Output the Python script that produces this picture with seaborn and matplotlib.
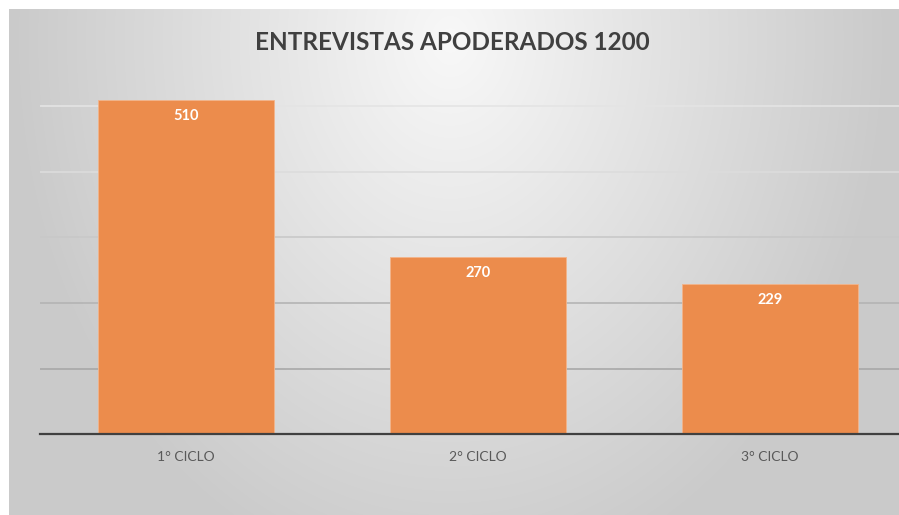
import numpy as np
import pandas as pd
import matplotlib
matplotlib.use("Agg")
import matplotlib.pyplot as plt
import seaborn as sns

categorias = ["1° CICLO", "2° CICLO", "3° CICLO"]
entrevistas = [510, 270, 229]
titulo = "ENTREVISTAS APODERADOS 1200"

df = pd.DataFrame({"ciclo": categorias, "entrevistas": entrevistas})

sns.set_theme(style="white")
plt.rcParams["font.family"] = ["Lato", "DejaVu Sans"]

W, H = 899, 515
fig = plt.figure(figsize=(W / 100, H / 100), dpi=100, facecolor="white")

# fondo con degradado radial (claro arriba al centro)
bg = fig.add_axes([9 / W, 0, (W - 9) / W, (H - 9) / H], zorder=0)
yy, xx = np.mgrid[0:506, 0:890]
d = np.sqrt(((xx - 441) / 441.0) ** 2 + ((yy - 31) / 560.0) ** 2)
val = (248 - 46 * np.clip(d, 0, 1)) / 255.0
bg.imshow(np.dstack([val, val, val]), aspect="auto", interpolation="bilinear")
bg.set_axis_off()

# area del grafico: baseline en y=434, izquierda x=40
x0, x1 = 40, W
yb, yt = 434, 434 - 6 * 65.5
ax = fig.add_axes([x0 / W, (H - yb) / H, (x1 - x0) / W, (yb - yt) / H], zorder=1)
ax.patch.set_alpha(0)

sns.barplot(data=df, x="ciclo", y="entrevistas", color="#EC8C4C", width=0.606,
            saturation=1, ax=ax, zorder=3, edgecolor="#F3B48A", linewidth=0.6)

ax.set_xlim(-0.5, -0.5 + (x1 - x0) / 292.0)
ax.set_ylim(0, 600)

grid_cols = {100: "#A8A8A8", 200: "#B4B4B4", 300: "#C8C8C8", 400: "#DCDCDC", 500: "#E4E4E4"}
for v, c in grid_cols.items():
    ax.axhline(v, color=c, lw=1.2, zorder=1)

for s in ["top", "right", "left"]:
    ax.spines[s].set_visible(False)
ax.spines["bottom"].set_color("#404040")
ax.spines["bottom"].set_linewidth(1.6)
ax.spines["bottom"].set_zorder(4)

ax.set_yticks([])
ax.set_xlabel("")
ax.set_ylabel("")
ax.tick_params(axis="x", length=0, pad=12, labelsize=10, labelcolor="#595959")

for i, v in enumerate(entrevistas):
    ax.annotate(str(v), (i, v), xytext=(0, -16), textcoords="offset pixels",
                ha="center", va="center", color="white", fontsize=10.5,
                fontweight="bold", zorder=5)

fig.text(452 / W, 1 - 42 / H, titulo, ha="center", va="center",
         fontsize=17.5, fontweight="bold", color="#404040", zorder=5)

fig.savefig("out.png", dpi=100, facecolor="white")
